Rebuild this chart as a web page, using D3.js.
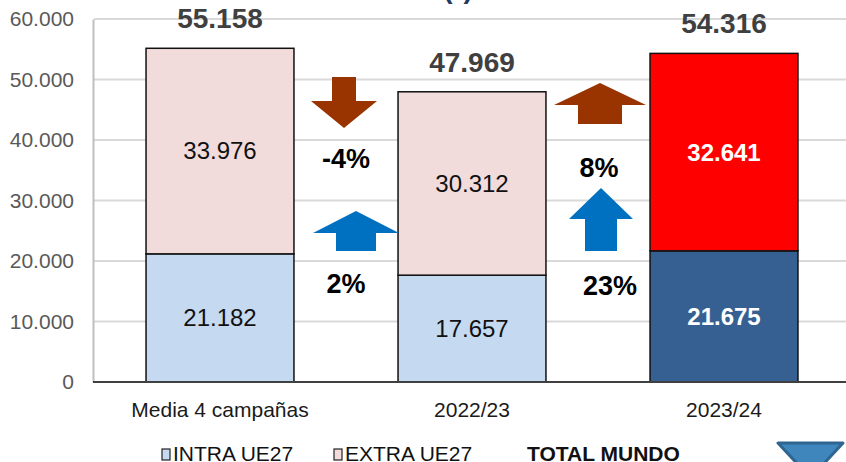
<!DOCTYPE html>
<html>
<head>
<meta charset="utf-8">
<script src="https://cdn.jsdelivr.net/npm/d3@7"></script>
<style>
  body { margin: 0; background: #fff; }
  svg { display: block; font-family: "Liberation Sans", Arial, sans-serif; }
</style>
</head>
<body>
<svg id="chart" width="846" height="462"></svg>
<script>
// data
var categories = ['Media 4 campañas', '2022/23', '2023/24'];
var intra = [21182, 17657, 21675];
var extra = [33976, 30312, 32641];
var yTicks = [0, 10000, 20000, 30000, 40000, 50000, 60000];
var changeExtra = [-4, 8];
var changeIntra = [2, 23];
var legendLabels = ['INTRA UE27', 'EXTRA UE27', 'TOTAL MUNDO'];

var fmt = function(v) { return d3.format(',')(v).replace(/,/g, '.'); };

var svg = d3.select('#chart');

var x = d3.scaleBand().domain(categories).range([94, 850])
  .paddingInner(0.413).paddingOuter(0.2065);
var y = d3.scaleLinear().domain([0, 60000]).range([382, 19]);

// partially visible title
svg.append('text')
  .attr('x', 458).attr('y', -2)
  .attr('text-anchor', 'middle')
  .attr('font-size', 28).attr('font-weight', 'bold')
  .attr('fill', '#1f3864')
  .text('(*)');

// gridlines
svg.append('g').selectAll('line').data(yTicks.slice(1)).enter().append('line')
  .attr('x1', 94).attr('x2', 846)
  .attr('y1', function(d) { return y(d); }).attr('y2', function(d) { return y(d); })
  .attr('stroke', '#d9d9d9').attr('stroke-width', 2);

// y axis
var yAxis = svg.append('g').attr('transform', 'translate(93,0)')
  .call(d3.axisLeft(y).tickValues(yTicks).tickSize(0).tickPadding(19)
    .tickFormat(function(d) { return d === 0 ? '0' : fmt(d); }));
yAxis.select('.domain').attr('stroke', '#bfbfbf').attr('stroke-width', 2);
yAxis.selectAll('text').attr('font-size', 21).attr('fill', '#595959')
  .attr('font-family', '"Liberation Sans", Arial, sans-serif');

// bars
var bw = x.bandwidth();
var bars = svg.append('g').selectAll('g.bar').data(categories).enter().append('g')
  .classed('bar', true);

bars.append('rect')
  .attr('x', function(d) { return x(d); })
  .attr('width', bw)
  .attr('y', function(d, i) { return y(intra[i]); })
  .attr('height', function(d, i) { return y(0) - y(intra[i]); })
  .attr('fill', function(d, i) { return i === 2 ? '#376092' : '#c5d9f1'; })
  .attr('stroke', '#111').attr('stroke-width', 1.5);

bars.append('rect')
  .attr('x', function(d) { return x(d); })
  .attr('width', bw)
  .attr('y', function(d, i) { return y(intra[i] + extra[i]); })
  .attr('height', function(d, i) { return y(intra[i]) - y(intra[i] + extra[i]); })
  .attr('fill', function(d, i) { return i === 2 ? '#ff0000' : '#f2dcdb'; })
  .attr('stroke', '#111').attr('stroke-width', 1.5);

// segment labels
bars.append('text')
  .attr('x', function(d) { return x(d) + bw / 2; })
  .attr('y', function(d, i) { return (y(0) + y(intra[i])) / 2; })
  .attr('dy', '0.35em').attr('text-anchor', 'middle')
  .attr('font-size', 24)
  .attr('font-weight', function(d, i) { return i === 2 ? 'bold' : 'normal'; })
  .attr('fill', function(d, i) { return i === 2 ? '#fff' : '#111'; })
  .text(function(d, i) { return fmt(intra[i]); });

bars.append('text')
  .attr('x', function(d) { return x(d) + bw / 2; })
  .attr('y', function(d, i) { return (y(intra[i]) + y(intra[i] + extra[i])) / 2; })
  .attr('dy', '0.35em').attr('text-anchor', 'middle')
  .attr('font-size', 24)
  .attr('font-weight', function(d, i) { return i === 2 ? 'bold' : 'normal'; })
  .attr('fill', function(d, i) { return i === 2 ? '#fff' : '#111'; })
  .text(function(d, i) { return fmt(extra[i]); });

// totals
bars.append('text')
  .attr('x', function(d) { return x(d) + bw / 2; })
  .attr('y', function(d, i) { return y(intra[i] + extra[i]) - 20; })
  .attr('text-anchor', 'middle')
  .attr('font-size', 28).attr('font-weight', 'bold')
  .attr('fill', '#404040')
  .text(function(d, i) { return fmt(intra[i] + extra[i]); });

// baseline
svg.append('line').attr('x1', 93).attr('x2', 846)
  .attr('y1', y(0)).attr('y2', y(0))
  .attr('stroke', '#404040').attr('stroke-width', 2);

// category labels
svg.append('g').selectAll('text').data(categories).enter().append('text')
  .attr('x', function(d) { return x(d) + bw / 2; })
  .attr('y', 417)
  .attr('text-anchor', 'middle')
  .attr('font-size', 21).attr('fill', '#1a1a1a')
  .text(function(d) { return d; });

// arrows between bars
function arrowPath(cx, tip, headBase, headHalf, shaftHalf, tail) {
  return 'M' + cx + ',' + tip +
    'L' + (cx + headHalf) + ',' + headBase +
    'L' + (cx + shaftHalf) + ',' + headBase +
    'L' + (cx + shaftHalf) + ',' + tail +
    'L' + (cx - shaftHalf) + ',' + tail +
    'L' + (cx - shaftHalf) + ',' + headBase +
    'L' + (cx - headHalf) + ',' + headBase + 'Z';
}

var gaps = [0, 1].map(function(i) {
  return (x(categories[i]) + bw + x(categories[i + 1])) / 2;
});

// extra arrows (brown) - [dx, top, bottom, headHalf, shaftHalf, headLen]
var extraArrow = [[-2, 77, 128, 33, 12, 27], [2, 83, 124, 46, 22, 22]];
var extraText = [[0, 168], [1, 177]];
var intraArrow = [[10, 211, 251, 43, 20, 22], [3, 188, 251, 32, 16, 31]];
var intraText = [[0, 293], [12, 295]];

changeExtra.forEach(function(v, i) {
  var a = extraArrow[i], cx = gaps[i] + a[0];
  var p = v < 0
    ? arrowPath(cx, a[2], a[2] - a[5], a[3], a[4], a[1])
    : arrowPath(cx, a[1], a[1] + a[5], a[3], a[4], a[2]);
  svg.append('path').attr('d', p).attr('fill', '#993300');
  svg.append('text')
    .attr('x', gaps[i] + extraText[i][0]).attr('y', extraText[i][1])
    .attr('text-anchor', 'middle')
    .attr('font-size', 27).attr('font-weight', 'bold').attr('fill', '#000')
    .text(v + '%');
});

changeIntra.forEach(function(v, i) {
  var a = intraArrow[i], cx = gaps[i] + a[0];
  var p = v < 0
    ? arrowPath(cx, a[2], a[2] - a[5], a[3], a[4], a[1])
    : arrowPath(cx, a[1], a[1] + a[5], a[3], a[4], a[2]);
  svg.append('path').attr('d', p).attr('fill', '#0070c0');
  svg.append('text')
    .attr('x', gaps[i] + intraText[i][0]).attr('y', intraText[i][1])
    .attr('text-anchor', 'middle')
    .attr('font-size', 27).attr('font-weight', 'bold').attr('fill', '#000')
    .text(v + '%');
});

// legend
var legend = svg.append('g');
var legendX = [162, 334, 527];
var swatch = ['#c5d9f1', '#f2dcdb'];
legendLabels.forEach(function(t, i) {
  if (i < 2) {
    legend.append('rect')
      .attr('x', legendX[i]).attr('y', 449)
      .attr('width', 8).attr('height', 11)
      .attr('fill', swatch[i]).attr('stroke', '#222').attr('stroke-width', 1.2);
  }
  legend.append('text')
    .attr('x', i < 2 ? legendX[i] + 11 : legendX[i]).attr('y', 461)
    .attr('font-size', 21)
    .attr('font-weight', i === 2 ? 'bold' : 'normal')
    .attr('fill', '#111')
    .text(t);
});

// triangle marker bottom right
svg.append('path')
  .attr('d', 'M778,443L843,443L810.5,478Z')
  .attr('fill', '#3f86bd').attr('stroke', '#2e6591').attr('stroke-width', 3)
  .attr('stroke-linejoin', 'round');
</script>
</body>
</html>
